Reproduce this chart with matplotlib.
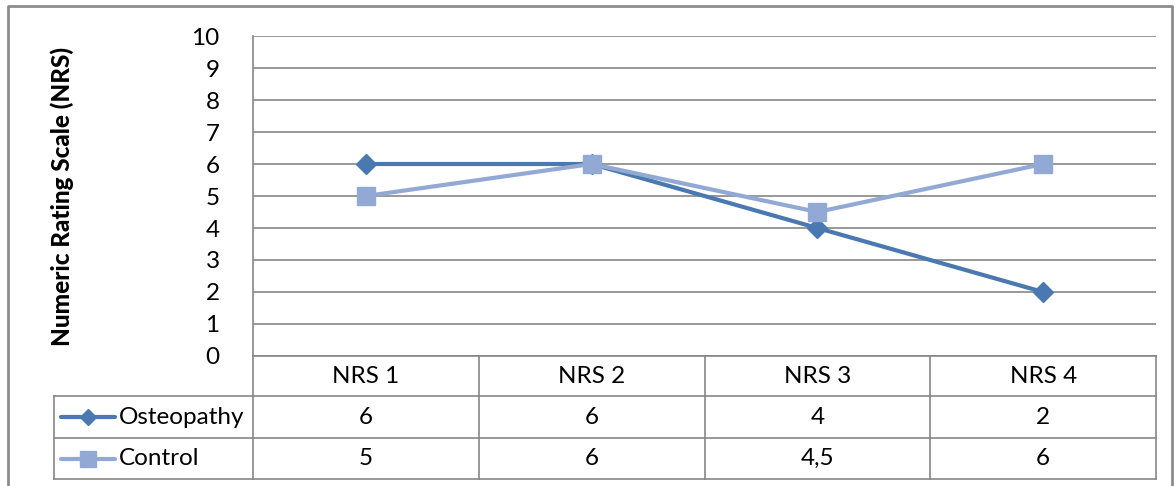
import matplotlib
matplotlib.use("Agg")
import matplotlib.pyplot as plt
from matplotlib import font_manager
from matplotlib.lines import Line2D
from matplotlib.transforms import Affine2D, blended_transform_factory

categories = ["NRS 1", "NRS 2", "NRS 3", "NRS 4"]
series_names = ["Osteopathy", "Control"]
osteopathy = [6, 6, 4, 2]
control = [5, 6, 4.5, 6]
value_labels = [["6", "6", "4", "2"], ["5", "6", "4,5", "6"]]
y_ticks = list(range(0, 11))

W, H = 1175, 486
plt.rcParams["font.family"] = ["Lato", "DejaVu Sans"]
fig = plt.figure(figsize=(W / 100, H / 100), dpi=100)


def bold_family(candidates):
    """Return the first candidate family that ships a real bold face."""
    for fam in candidates:
        for f in font_manager.fontManager.ttflist:
            w = f.weight if isinstance(f.weight, int) else 400
            if f.name == fam and w >= 600 and f.style == "normal":
                return fam, f.fname
    return "DejaVu Sans", None


FS = 17.5
grid_col = "#868686"
colors = ["#4A78B0", "#93A9D5"]
markers = ["D", "s"]
msizes = [10, 13]

# pixel coordinates (origin top-left) -> figure
px = Affine2D().scale(1 / W, -1 / H).translate(0, 1) + fig.transFigure

left, right, top, bottom = 253, 1156, 36, 356
ax = fig.add_axes([left / W, 1 - bottom / H, (right - left) / W, (bottom - top) / H])
ax.set_xlim(0, len(categories))
ax.set_ylim(0, 10)
ax.set_yticks(y_ticks)
ax.set_yticklabels([str(t) for t in y_ticks], fontsize=FS)
ax.tick_params(axis="y", length=0, pad=24)
ax.set_xticks([])
for s in ["top", "right", "bottom"]:
    ax.spines[s].set_visible(False)
ax.spines["left"].set_color(grid_col)
ax.spines["left"].set_linewidth(1.2)
for t in y_ticks:
    ax.axhline(t, color=grid_col, lw=1.2, zorder=1)

xs = [i + 0.5 for i in range(len(categories))]
for vals, c, m, ms in zip([osteopathy, control], colors, markers, msizes):
    ax.plot(xs, vals, color=c, lw=3, marker=m, ms=ms, zorder=3, clip_on=False)

fam, fpath = bold_family(["Lato", "Open Sans", "Noto Sans", "Roboto", "Liberation Sans"])
if fpath:
    label_font = font_manager.FontProperties(fname=fpath, size=17.5)
else:
    label_font = font_manager.FontProperties(family="DejaVu Sans", weight="bold", size=15)
fig.text(62, 196, "Numeric Rating Scale (NRS)", transform=px, rotation=90,
         ha="center", va="center", fontproperties=label_font)

# data table under the plot
row_edges = [356, 396, 438, 479]
col_edges = [left] + [ax.transData.transform((i + 1, 0))[0] for i in range(len(categories))]
leg_left = 54


def hline(y, x0, x1):
    fig.add_artist(Line2D([x0, x1], [y, y], transform=px, color=grid_col, lw=1.2))


def vline(x, y0, y1):
    fig.add_artist(Line2D([x, x], [y0, y1], transform=px, color=grid_col, lw=1.2))


hline(row_edges[0], left, right)
for y in row_edges[1:]:
    hline(y, leg_left, right)
vline(leg_left, row_edges[1], row_edges[3])
for x in col_edges:
    vline(x, row_edges[0], row_edges[3])

col_tr = blended_transform_factory(ax.transData, px)
row_centers = [(row_edges[i] + row_edges[i + 1]) / 2 for i in range(3)]
for x, cat in zip(xs, categories):
    fig.text(x, row_centers[0], cat, transform=col_tr, ha="center", va="center", fontsize=FS)
for r, labels in enumerate(value_labels):
    for x, lab in zip(xs, labels):
        fig.text(x, row_centers[r + 1], lab, transform=col_tr, ha="center", va="center", fontsize=FS)

# legend keys inside the table
for r, (name, c, m, ms) in enumerate(zip(series_names, colors, markers, msizes)):
    yc = row_centers[r + 1]
    fig.add_artist(Line2D([61, 115], [yc, yc], transform=px, color=c, lw=3, solid_capstyle="round"))
    fig.add_artist(Line2D([88], [yc], transform=px, color=c, marker=m, ms=ms * 0.85, lw=0))
    fig.text(119, yc, name, transform=px, ha="left", va="center", fontsize=FS)

# outer frame
fig.add_artist(Line2D([8, 8, 1172, 1172], [490, 6, 6, 490], transform=px, color="#8c8c8c", lw=2))

fig.savefig("out.png", dpi=100)
